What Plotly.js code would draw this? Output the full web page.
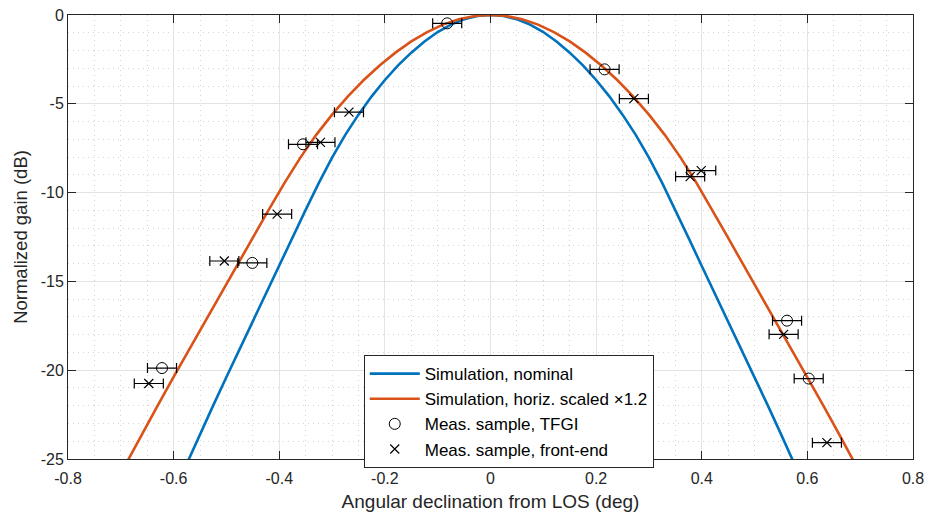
<!DOCTYPE html>
<html>
<head>
<meta charset="utf-8">
<script src="https://cdn.plot.ly/plotly-3.0.1.min.js"></script>
<style>html,body{margin:0;padding:0;background:#fff;}#chart{width:925px;height:512px;}</style>
</head>
<body>
<div id="chart"></div>
<script>
// Simulation, nominal (blue)
const nominalX = [-0.6,-0.575,-0.55,-0.525,-0.5,-0.475,-0.45,-0.425,-0.4,-0.375,-0.35,-0.325,-0.3,-0.275,-0.25,-0.225,-0.2,-0.175,-0.15,-0.125,-0.1,-0.075,-0.05,-0.025,0,
  0.025,0.05,0.075,0.1,0.125,0.15,0.175,0.2,0.225,0.25,0.275,0.3,0.325,0.35,0.375,0.4,0.425,0.45,0.475,0.5,0.525,0.55,0.575,0.6];
const nominalY = [-26.9,-25.24,-23.6,-21.98,-20.38,-18.8,-17.24,-15.69,-14.13,-12.55,-10.97,-9.45,-8.03,-6.75,-5.61,-4.58,-3.66,-2.84,-2.12,-1.49,-0.96,-0.54,-0.24,-0.06,0,
  -0.06,-0.24,-0.54,-0.96,-1.49,-2.12,-2.84,-3.66,-4.58,-5.61,-6.75,-8.03,-9.45,-10.97,-12.55,-14.13,-15.69,-17.24,-18.8,-20.38,-21.98,-23.6,-25.24,-26.9];
// Simulation, horiz. scaled x1.2 (orange)
const scaledX = [-0.72,-0.69,-0.66,-0.63,-0.6,-0.57,-0.54,-0.51,-0.48,-0.45,-0.42,-0.39,-0.36,-0.33,-0.3,-0.27,-0.24,-0.21,-0.18,-0.15,-0.12,-0.09,-0.06,-0.03,0,
  0.03,0.06,0.09,0.12,0.15,0.18,0.21,0.24,0.27,0.3,0.33,0.36,0.39,0.42,0.45,0.48,0.51,0.54,0.57,0.6,0.63,0.66,0.69,0.72];
const scaledY = [-26.9,-25.24,-23.6,-21.98,-20.38,-18.8,-17.24,-15.69,-14.13,-12.55,-10.97,-9.45,-8.03,-6.75,-5.61,-4.58,-3.66,-2.84,-2.12,-1.49,-0.96,-0.54,-0.24,-0.06,0,
  -0.06,-0.24,-0.54,-0.96,-1.49,-2.12,-2.84,-3.66,-4.58,-5.61,-6.75,-8.03,-9.45,-10.97,-12.55,-14.13,-15.69,-17.24,-18.8,-20.38,-21.98,-23.6,-25.24,-26.9];
// Meas. sample, TFGI
const tfgiX = [-0.082,0.216,-0.355,-0.451,-0.622,0.5615,0.6025];
const tfgiY = [-0.47,-3.06,-7.28,-13.96,-19.88,-17.21,-20.47];
const tfgiErr = [0.0275,0.0275,0.0275,0.0275,0.0275,0.0275,0.0275];
// Meas. sample, front-end
const feX = [-0.268,-0.322,-0.404,-0.504,-0.647,0.2715,0.399,0.378,0.555,0.637];
const feY = [-5.47,-7.17,-11.21,-13.85,-20.75,-4.71,-8.76,-9.1,-17.98,-24.08];
const feErr = [0.0275,0.0275,0.0275,0.0275,0.0275,0.0275,0.0275,0.0275,0.0275,0.0275];
// Axis ticks
const xTickVals = [-0.8,-0.6,-0.4,-0.2,0,0.2,0.4,0.6,0.8];
const xTickText = ['-0.8','-0.6','-0.4','-0.2','0','0.2','0.4','0.6','0.8'];
const yTickVals = [-25,-20,-15,-10,-5,0];
const yTickText = ['-25','-20','-15','-10','-5','0'];

const FONT = 'Liberation Sans, Arial, Helvetica, sans-serif';
const AX = '#262626';

const traces = [
  {x: nominalX, y: nominalY, mode: 'lines', name: 'Simulation, nominal',
   line: {color: '#0072BD', width: 2.6}},
  {x: scaledX, y: scaledY, mode: 'lines', name: 'Simulation, horiz. scaled \u00d71.2',
   line: {color: '#D95319', width: 2.6}},
  {x: tfgiX, y: tfgiY, mode: 'markers', name: 'Meas. sample, TFGI',
   marker: {symbol: 'circle-open', size: 11, color: '#000', line: {width: 1, color: '#000'}},
   error_x: {type: 'data', array: tfgiErr, symmetric: true, color: '#000', thickness: 1.2, width: 5}},
  {x: feX, y: feY, mode: 'markers', name: 'Meas. sample, front-end',
   marker: {symbol: 'x-thin-open', size: 9, color: '#000', line: {width: 1.2, color: '#000'}},
   error_x: {type: 'data', array: feErr, symmetric: true, color: '#000', thickness: 1.2, width: 5}}
];

const axisCommon = {
  ticks: 'inside', ticklen: 8, tickcolor: AX, tickwidth: 1,
  showline: true, linecolor: AX, linewidth: 1, mirror: 'ticks',
  showgrid: true, gridcolor: '#e3e3e3', gridwidth: 1, zeroline: false,
  tickfont: {family: FONT, size: 16, color: AX},
  fixedrange: true
};

const layout = {
  width: 925, height: 512,
  margin: {l: 68, r: 12, t: 15, b: 53},
  paper_bgcolor: '#fff', plot_bgcolor: '#fff',
  font: {family: FONT, color: AX},
  showlegend: true,
  xaxis: Object.assign({}, axisCommon, {
    range: [-0.8, 0.8], tickmode: 'array', tickvals: xTickVals, ticktext: xTickText,
    ticklabelstandoff: 5,
    minor: {dtick: 0.05, tick0: -0.8, showgrid: true, gridcolor: '#d4d4d4', griddash: '1px,4px', gridwidth: 1, ticks: ''},
    title: {text: 'Angular declination from LOS (deg)', font: {family: FONT, size: 19, color: AX}, standoff: 8}
  }),
  yaxis: Object.assign({}, axisCommon, {
    range: [-25, 0], tickmode: 'array', tickvals: yTickVals, ticktext: yTickText,
    minor: {dtick: 1, tick0: 0, showgrid: true, gridcolor: '#d4d4d4', griddash: '1px,4px', gridwidth: 1, ticks: ''},
    title: {text: 'Normalized gain (dB)', font: {family: FONT, size: 18.5, color: AX}, standoff: 8}
  }),
  legend: {
    x: 0.35, y: 0.234, xanchor: 'left', yanchor: 'top',
    bgcolor: '#ffffff', bordercolor: AX, borderwidth: 1,
    font: {family: FONT, size: 17, color: '#000'},
    tracegroupgap: 0, itemwidth: 50
  }
};

Plotly.newPlot('chart', traces, layout, {staticPlot: true, displayModeBar: false});
</script>
</body>
</html>
